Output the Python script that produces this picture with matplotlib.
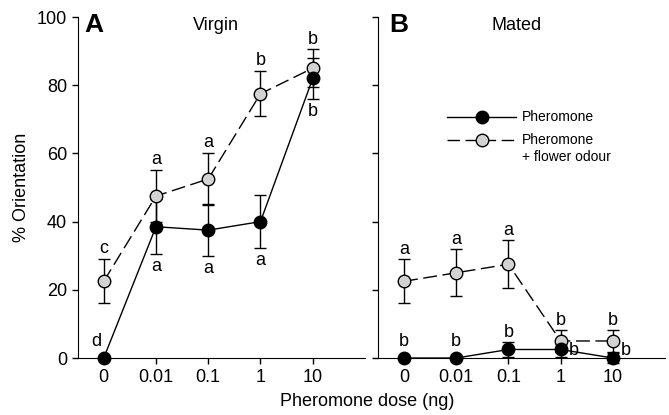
import matplotlib
matplotlib.use("Agg")
import matplotlib.pyplot as plt
from matplotlib.lines import Line2D

plt.rcParams['font.family'] = ['Liberation Sans', 'DejaVu Sans']

doses = ["0", "0.01", "0.1", "1", "10"]

# Panel A - Virgin
virgin_ph = [0, 38.5, 37.5, 40, 82]
virgin_ph_err = [0, 8, 7.7, 7.7, 6]
virgin_fl = [22.5, 47.5, 52.5, 77.5, 85]
virgin_fl_err = [6.5, 7.6, 7.7, 6.6, 5.5]
virgin_ph_letters = ["d", "a", "a", "a", "b"]
virgin_fl_letters = ["c", "a", "a", "b", "b"]

# Panel B - Mated
mated_ph = [0, 0, 2.5, 2.5, 0]
mated_ph_err = [0, 0, 2.3, 2.3, 1.5]
mated_fl = [22.5, 25, 27.5, 5, 5]
mated_fl_err = [6.5, 6.9, 7.1, 3.2, 3.2]
mated_ph_letters = ["b", "b", "b", "b", "b"]
mated_fl_letters = ["a", "a", "a", "b", "b"]

fig = plt.figure(figsize=(6.69, 4.15), dpi=100)
axA = fig.add_axes([0.116, 0.1373, 0.4296, 0.8217])
axB = fig.add_axes([0.565, 0.1373, 0.429, 0.8217])

x = list(range(len(doses)))
DASH = (10, 4)
LFS = 13
MS = 9

def draw(ax, ph, ph_err, fl, fl_err):
    ax.errorbar(x, fl, yerr=fl_err, fmt='none', ecolor='black', elinewidth=1,
                capsize=4, capthick=1, zorder=2, clip_on=False)
    ax.errorbar(x, ph, yerr=ph_err, fmt='none', ecolor='black', elinewidth=1,
                capsize=4, capthick=1, zorder=2, clip_on=False)
    ax.plot(x, fl, color='black', lw=1, dashes=DASH, zorder=3, clip_on=False)
    ax.plot(x, fl, ls='none', marker='o', ms=MS, mfc='#d3d3d3', mec='black',
            mew=1, zorder=4, clip_on=False)
    ax.plot(x, ph, color='black', lw=1, marker='o', ms=MS, mfc='black',
            mec='black', zorder=5, clip_on=False)
    ax.set_xlim(-0.5, 5)
    ax.set_ylim(0, 100)
    ax.set_xticks(x)
    ax.set_xticklabels(doses, fontsize=LFS)
    ax.set_yticks([0, 20, 40, 60, 80, 100])
    for s in ['top', 'right']:
        ax.spines[s].set_visible(False)
    ax.tick_params(direction='out', length=4.6, width=1, labelsize=LFS, pad=3)

draw(axA, virgin_ph, virgin_ph_err, virgin_fl, virgin_fl_err)
draw(axB, mated_ph, mated_ph_err, mated_fl, mated_fl_err)
axB.set_yticklabels([])

# Letters panel A
for i in x:
    axA.text(i, virgin_fl[i] + virgin_fl_err[i] + 1.7, virgin_fl_letters[i],
             ha='center', va='baseline', fontsize=LFS)
for i in x:
    if i == 0:
        axA.text(i - 0.14, 3.4, virgin_ph_letters[i],
                 ha='center', va='baseline', fontsize=LFS)
    else:
        axA.text(i, virgin_ph[i] - virgin_ph_err[i] - 5, virgin_ph_letters[i],
                 ha='center', va='baseline', fontsize=LFS)

# Letters panel B
for i in x:
    axB.text(i, mated_fl[i] + mated_fl_err[i] + 1.5, mated_fl_letters[i],
             ha='center', va='baseline', fontsize=LFS)
for i in x:
    if i < 3:
        axB.text(i, max(mated_ph[i] + mated_ph_err[i] + 1.5, 3.4),
                 mated_ph_letters[i], ha='center', va='baseline', fontsize=LFS)
    else:
        axB.text(i + 0.25, 0.8, mated_ph_letters[i],
                 ha='center', va='baseline', fontsize=LFS)

axA.text(0.025, 0.957, "A", transform=axA.transAxes, fontsize=19,
         fontweight='bold', ha='left', va='baseline')
axA.text(0.48, 0.962, "Virgin", transform=axA.transAxes, fontsize=LFS,
         ha='center', va='baseline')
axB.text(0.038, 0.957, "B", transform=axB.transAxes, fontsize=19,
         fontweight='bold', ha='left', va='baseline')
axB.text(0.483, 0.962, "Mated", transform=axB.transAxes, fontsize=LFS,
         ha='center', va='baseline')

axA.set_ylabel("% Orientation", fontsize=LFS)
axA.yaxis.set_label_coords(-0.165, 0.5)
fig.text(0.549, 0.022, "Pheromone dose (ng)", fontsize=LFS, ha='center',
         va='baseline')

# Legend drawn in axes coordinates of panel B
tr = axB.transAxes
axB.add_line(Line2D([0.240, 0.481], [0.708, 0.708], color='black', lw=1,
                    transform=tr, clip_on=False))
axB.add_line(Line2D([0.362], [0.708], ls='none', marker='o', ms=MS,
                    mfc='black', mec='black', transform=tr, clip_on=False))
axB.add_line(Line2D([0.240, 0.481], [0.639, 0.639], color='black', lw=1,
                    dashes=(9, 4), transform=tr, clip_on=False))
axB.add_line(Line2D([0.362], [0.639], ls='none', marker='o', ms=MS,
                    mfc='#d3d3d3', mec='black', transform=tr, clip_on=False))
axB.text(0.502, 0.708, "Pheromone", transform=tr, fontsize=10,
         ha='left', va='center')
axB.text(0.502, 0.639, "Pheromone", transform=tr, fontsize=10,
         ha='left', va='center')
axB.text(0.502, 0.589, "+ flower odour", transform=tr, fontsize=10,
         ha='left', va='center')

fig.savefig("out.png", dpi=100)
